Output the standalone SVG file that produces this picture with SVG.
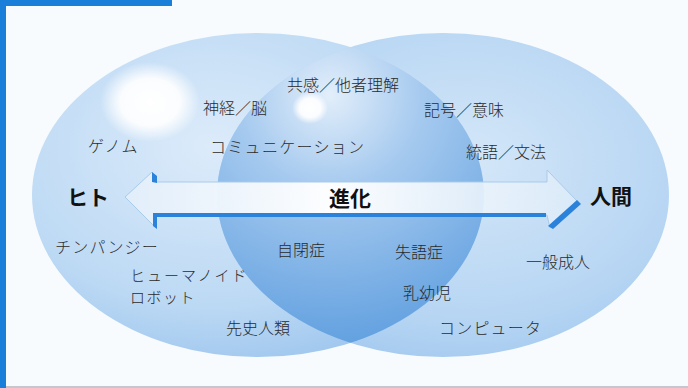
<svg xmlns="http://www.w3.org/2000/svg" width="688" height="388" viewBox="0 0 688 388">
<defs>
<style>
.lbl{font-family:"Noto Sans CJK JP","Noto Sans CJK SC",sans-serif;font-size:16px;fill:#2b2b2b;font-weight:300}
.big{font-family:"Noto Sans CJK JP","Noto Sans CJK SC",sans-serif;font-size:21px;fill:#111;font-weight:700}
</style>
<radialGradient id="gl" cx="0.4" cy="0.35" r="0.7">
<stop offset="0" stop-color="#dcebfa"/><stop offset="0.7" stop-color="#bcd9f4"/><stop offset="1" stop-color="#9ec6ee"/>
</radialGradient>
<radialGradient id="gr" cx="0.55" cy="0.4" r="0.7">
<stop offset="0" stop-color="#d4e7f8"/><stop offset="0.7" stop-color="#b6d5f3"/><stop offset="1" stop-color="#9cc5ee"/>
</radialGradient>
<radialGradient id="go" gradientUnits="userSpaceOnUse" cx="330" cy="95" r="260">
<stop offset="0" stop-color="#e2eefa"/><stop offset="0.35" stop-color="#a6caef"/><stop offset="1" stop-color="#5e9edf"/>
</radialGradient>
<radialGradient id="glow">
<stop offset="0" stop-color="#ffffff" stop-opacity="1"/><stop offset="0.6" stop-color="#ffffff" stop-opacity="0.9"/><stop offset="1" stop-color="#ffffff" stop-opacity="0"/>
</radialGradient>
<linearGradient id="ga" x1="0" y1="0" x2="1" y2="0">
<stop offset="0" stop-color="#e2eefa" stop-opacity="0.95"/><stop offset="0.45" stop-color="#ffffff" stop-opacity="0.97"/><stop offset="1" stop-color="#deecf9" stop-opacity="0.85"/>
</linearGradient>
<clipPath id="cl"><ellipse cx="258" cy="195" rx="226" ry="162"/></clipPath>
</defs>
<rect width="688" height="388" fill="#f7fbfd"/>
<rect x="0" y="386" width="688" height="2" fill="#c4c8cc"/>
<rect x="0" y="0" width="6" height="388" fill="#1a7fd8"/>
<rect x="0" y="0" width="172" height="6" fill="#1a7fd8"/>
<g id="circles">
<ellipse id="left-set" cx="258" cy="195" rx="226" ry="162" fill="url(#gl)"/>
<ellipse id="right-set" cx="443" cy="195" rx="226" ry="162" fill="url(#gr)"/>
<ellipse id="overlap" cx="443" cy="195" rx="226" ry="162" fill="url(#go)" clip-path="url(#cl)"/>
<ellipse cx="150" cy="102" rx="50" ry="40" fill="url(#glow)"/>
<ellipse cx="310" cy="108" rx="18" ry="16" fill="url(#glow)"/>
</g>
<g id="connectors">
<g id="evolution-arrow">
<path d="M125,197 L152,172 L156,182 L547,182 L547,170 L577,201 L550,228 L547,215 L156,215 L156,228 Z" fill="url(#ga)" stroke="#a9cbea" stroke-width="1"/>
<path d="M152,172 L157,176 L157,183 L152,182 Z" fill="#2a82da"/>
<path d="M153,213 L546,213 L546,217 L157,217 L157,229 L153,226 Z" fill="#2a82da"/>
<path d="M577,200 L581,204 L553,229 L548,226 Z" fill="#2a82da"/>
<text x="350" y="206" text-anchor="middle" class="big">進化</text>
</g>
</g>
<g id="node-hito"><text x="67" y="205" class="big">ヒト</text></g>
<g id="node-ningen"><text x="590" y="204" class="big">人間</text></g>
<g id="node-kyokan"><text x="287" y="91" class="lbl">共感／他者理解</text></g>
<g id="node-shinkei"><text x="203" y="114" class="lbl">神経／脳</text></g>
<g id="node-kigo"><text x="424" y="116" class="lbl">記号／意味</text></g>
<g id="node-genome"><text x="88" y="152" class="lbl" letter-spacing="1">ゲノム</text></g>
<g id="node-comm"><text x="210" y="153" class="lbl" letter-spacing="1.3">コミュニケーション</text></g>
<g id="node-togo"><text x="466" y="158" class="lbl">統語／文法</text></g>
<g id="node-chimp"><text x="55" y="253" class="lbl" letter-spacing="1.2">チンパンジー</text></g>
<g id="node-jiheisho"><text x="277" y="256" class="lbl">自閉症</text></g>
<g id="node-shitsugo"><text x="395" y="258" class="lbl">失語症</text></g>
<g id="node-ippan"><text x="526" y="268" class="lbl">一般成人</text></g>
<g id="node-robot"><text class="lbl" style="font-size:15px"><tspan x="130" y="281" letter-spacing="2">ヒューマノイド</tspan><tspan x="130" y="303" letter-spacing="1.5">ロボット</tspan></text></g>
<g id="node-nyuyoji"><text x="403" y="299" class="lbl">乳幼児</text></g>
<g id="node-senshi"><text x="226" y="334" class="lbl">先史人類</text></g>
<g id="node-computer"><text x="439" y="334" class="lbl" letter-spacing="1.2">コンピュータ</text></g>
</svg>
